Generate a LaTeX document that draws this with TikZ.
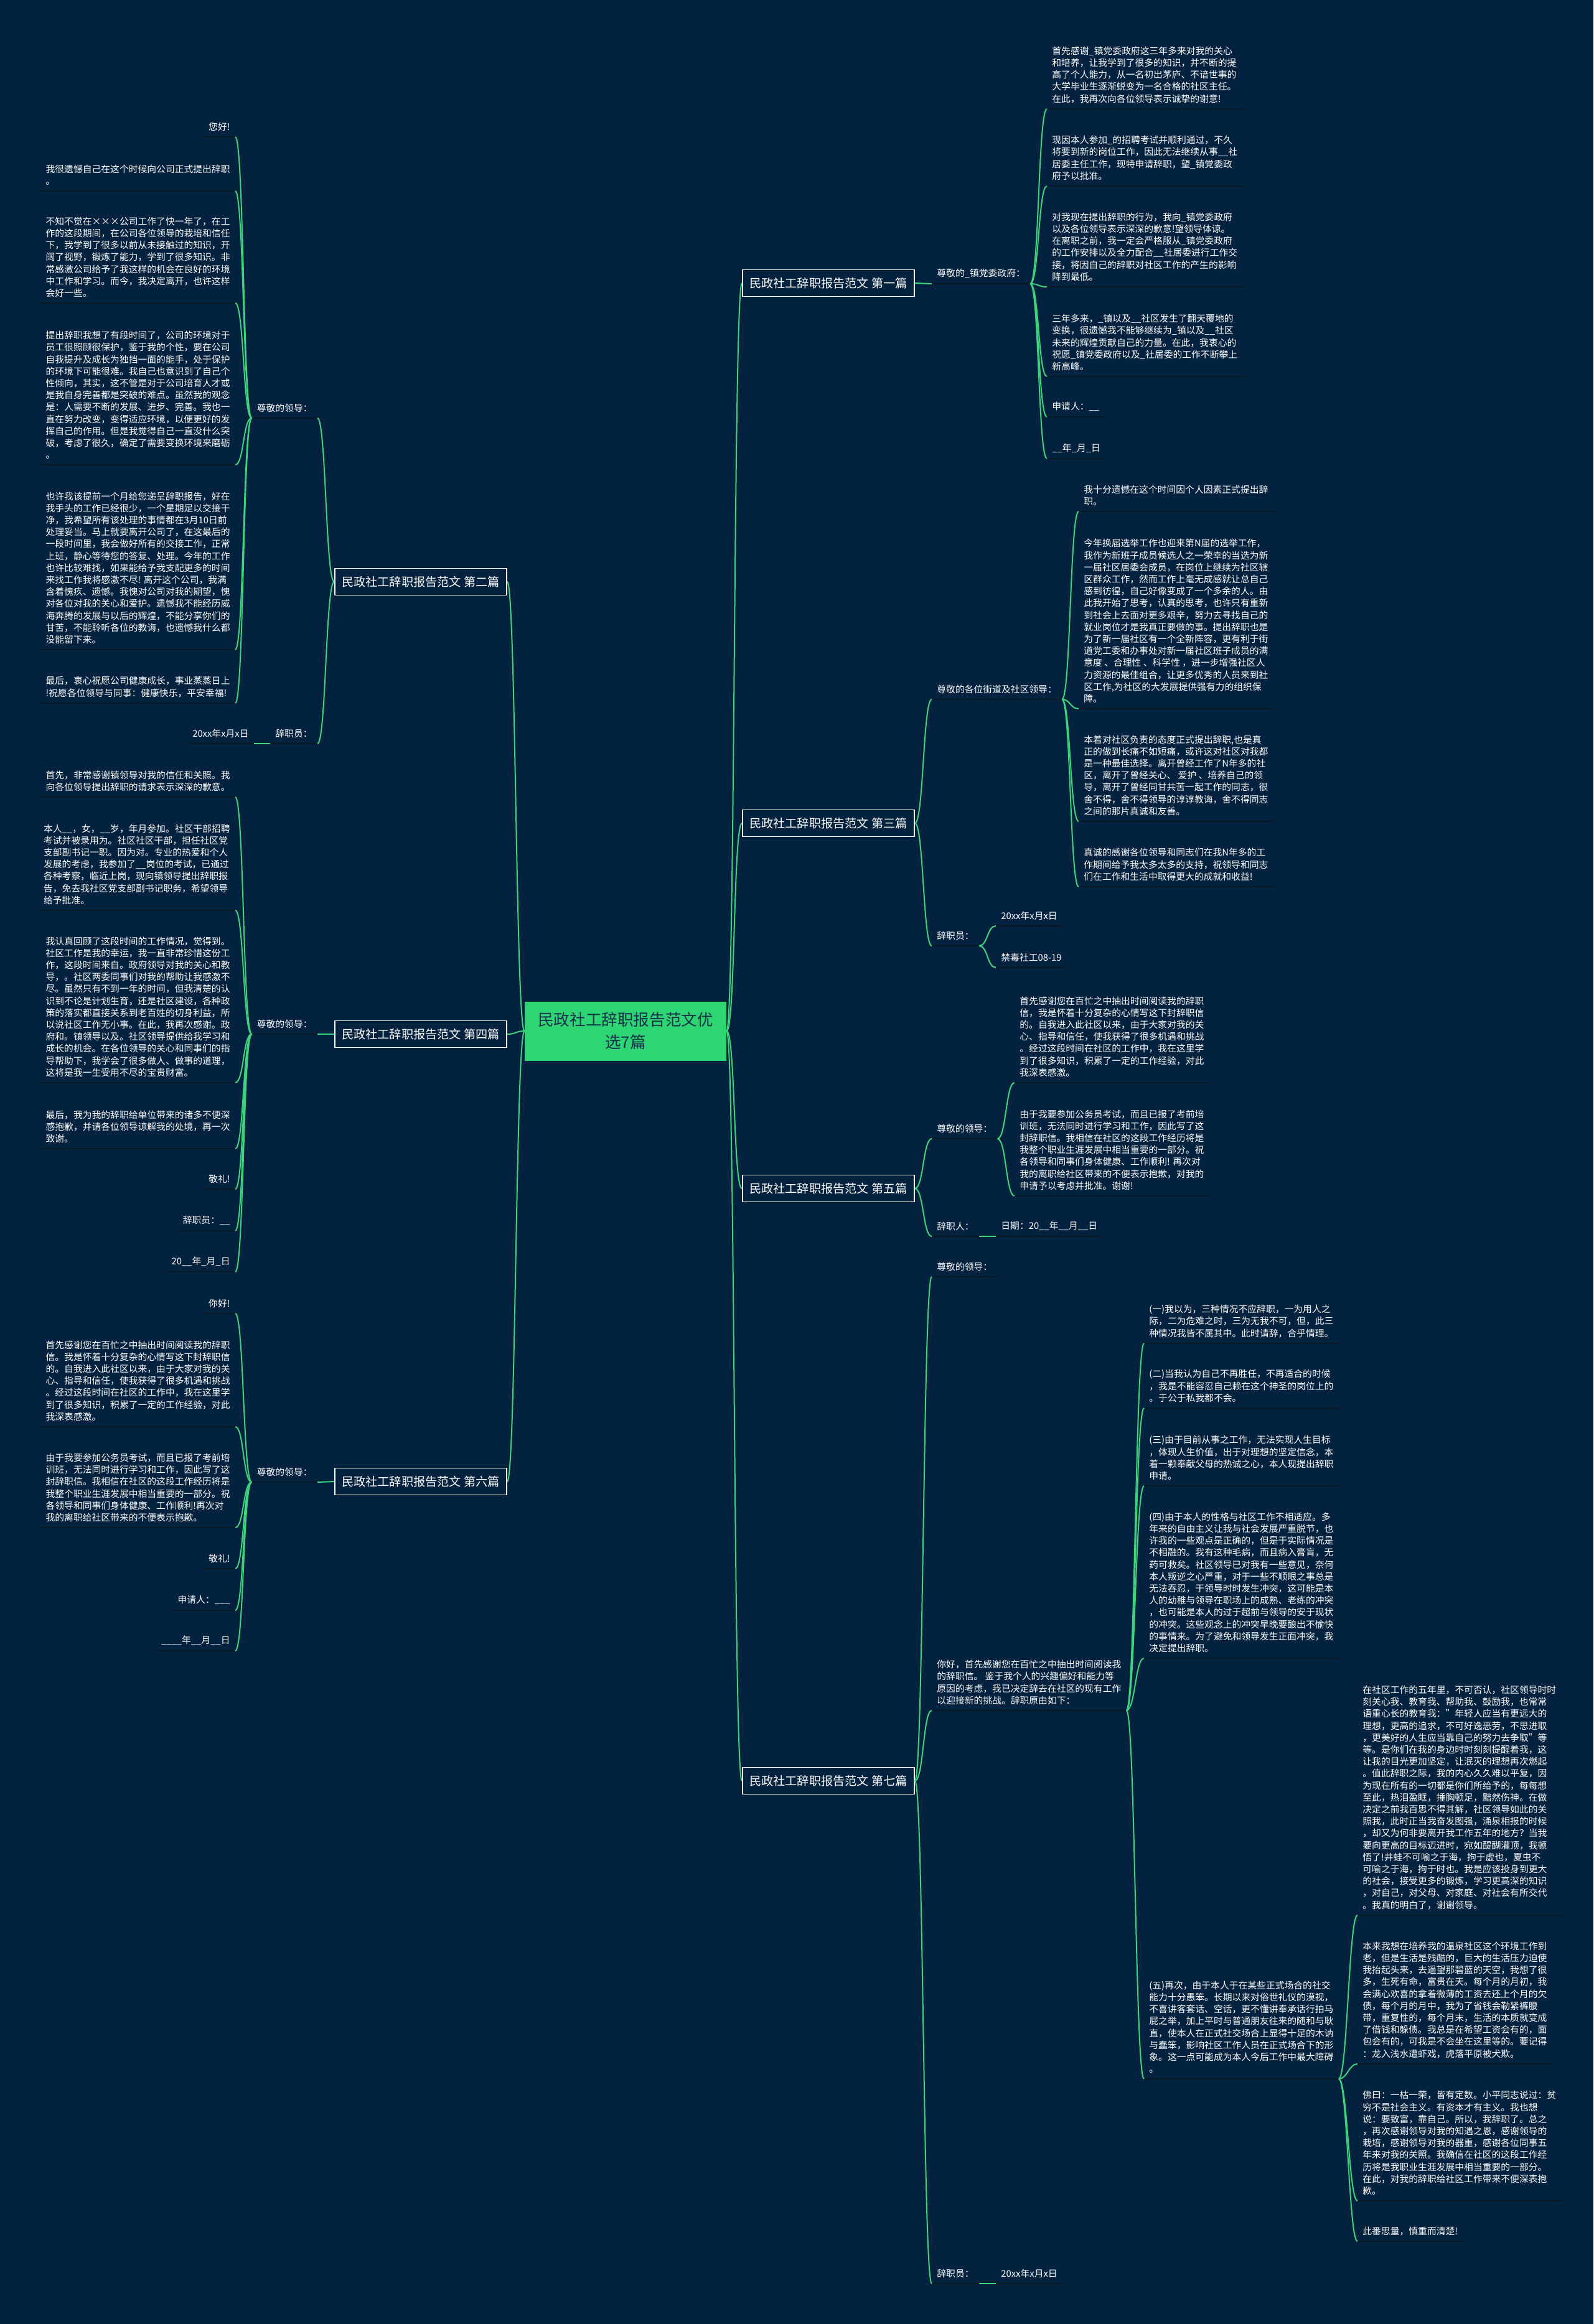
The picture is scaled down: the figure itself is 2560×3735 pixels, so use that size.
\documentclass[tikz,border=0pt]{standalone}
\usepackage{fontspec}
\setmainfont{Noto Sans CJK SC}
\usetikzlibrary{positioning}

\definecolor{navybg}{HTML}{03223F}
\definecolor{linkgreen}{HTML}{3DD47E}
\definecolor{rootgreen}{HTML}{2ED573}
\definecolor{rootink}{HTML}{10304A}
\definecolor{ulinedark}{HTML}{0A1826}

\tikzset{
  uline/.style={draw=ulinedark, line width=1.2pt},
  leaf/.style={text=white, align=left, inner xsep=4pt, inner ysep=4.5pt,
    font=\fontsize{7.4}{9.6}\selectfont,
    append after command={(\tikzlastnode.south west) edge[uline] (\tikzlastnode.south east)}},
  leafR/.style={leaf, anchor=south west},
  leafL/.style={leaf, anchor=south east},
  branch/.style={draw=white, line width=0.9pt, fill=navybg, text=white, inner sep=0pt,
    minimum width=138pt, minimum height=21.5pt, font=\fontsize{9.6}{12}\selectfont},
  rootbox/.style={fill=rootgreen, text=rootink, align=center,
    minimum width=162pt, minimum height=47.5pt, font=\fontsize{12.8}{18}\selectfont},
  link/.style={draw=linkgreen, line width=1pt},
  bendR/.style={to path={.. controls +(14,0) and +(-14,0) .. (\tikztotarget)}},
  bendL/.style={to path={.. controls +(-14,0) and +(14,0) .. (\tikztotarget)}}
}

\begin{document}
\begin{tikzpicture}[x=0.5pt, y=-0.5pt]
    \fill[navybg] (0,0) rectangle (2560,3735);
    \useasboundingbox (0,0) rectangle (2560,3735);

    \node (root) [rootbox] at (1005,1657) {民政社工辞职报告范文优\\选7篇};

    \node (p1) [branch] at (1331,455) {民政社工辞职报告范文 第一篇};
    \node (p3) [branch] at (1331,1323) {民政社工辞职报告范文 第三篇};
    \node (p5) [branch] at (1331,1910) {民政社工辞职报告范文 第五篇};
    \node (p7) [branch] at (1331,2862) {民政社工辞职报告范文 第七篇};
    \node (p2) [branch] at (676,935) {民政社工辞职报告范文 第二篇};
    \node (p4) [branch] at (676,1662) {民政社工辞职报告范文 第四篇};
    \node (p6) [branch] at (676,2381) {民政社工辞职报告范文 第六篇};

    % 第一篇
    \node (p1g) [leafR] at (1497,456) {尊敬的\_镇党委政府：};
    \node (p1c1) [leafR] at (1682,175) {首先感谢\_镇党委政府这三年多来对我的关心\\和培养，让我学到了很多的知识，并不断的提\\高了个人能力，从一名初出茅庐、不谙世事的\\大学毕业生逐渐蜕变为一名合格的社区主任。\\在此，我再次向各位领导表示诚挚的谢意!};
    \node (p1c2) [leafR] at (1682,299) {现因本人参加\_的招聘考试并顺利通过，不久\\将要到新的岗位工作，因此无法继续从事\_\_社\\居委主任工作，现特申请辞职，望\_镇党委政\\府予以批准。};
    \node (p1c3) [leafR] at (1682,461) {对我现在提出辞职的行为，我向\_镇党委政府\\以及各位领导表示深深的歉意!望领导体谅。\\在离职之前，我一定会严格服从\_镇党委政府\\的工作安排以及全力配合\_\_社居委进行工作交\\接，将因自己的辞职对社区工作的产生的影响\\降到最低。};
    \node (p1c4) [leafR] at (1682,605) {三年多来，\_镇以及\_\_社区发生了翻天覆地的\\变换，很遗憾我不能够继续为\_镇以及\_\_社区\\未来的辉煌贡献自己的力量。在此，我衷心的\\祝愿\_镇党委政府以及\_社居委的工作不断攀上\\新高峰。};
    \node (p1c5) [leafR] at (1682,670) {申请人：\_\_};
    \node (p1c6) [leafR] at (1682,737) {\_\_年\_月\_日};

    % 第三篇
    \node (p3g) [leafR] at (1497,1124) {尊敬的各位街道及社区领导：};
    \node (p3c1) [leafR] at (1733,822) {我十分遗憾在这个时间因个人因素正式提出辞\\职。};
    \node (p3c2) [leafR] at (1733,1139) {今年换届选举工作也迎来第N届的选举工作，\\我作为新班子成员候选人之一荣幸的当选为新\\一届社区居委会成员，在岗位上继续为社区辖\\区群众工作，然而工作上毫无成感就让总自己\\感到彷徨，自己好像变成了一个多余的人。由\\此我开始了思考，认真的思考，也许只有重新\\到社会上去面对更多艰辛，努力去寻找自己的\\就业岗位才是我真正要做的事。提出辞职也是\\为了新一届社区有一个全新阵容，更有利于街\\道党工委和办事处对新一届社区班子成员的满\\意度 、合理性 、科学性 ，进一步增强社区人\\力资源的最佳组合，让更多优秀的人员来到社\\区工作,为社区的大发展提供强有力的组织保\\障。};
    \node (p3c3) [leafR] at (1733,1320) {本着对社区负责的态度正式提出辞职,也是真\\正的做到长痛不如短痛，或许这对社区对我都\\是一种最佳选择。离开曾经工作了N年多的社\\区，离开了曾经关心、 爱护 、培养自己的领\\导，离开了曾经同甘共苦一起工作的同志，很\\舍不得，舍不得领导的谆谆教诲，舍不得同志\\之间的那片真诚和友善。};
    \node (p3c4) [leafR] at (1733,1425) {真诚的感谢各位领导和同志们在我N年多的工\\作期间给予我太多太多的支持，祝领导和同志\\们在工作和生活中取得更大的成就和收益!};
    \node (p3s) [leafR] at (1497,1520) {辞职员：};
    \node (p3s1) [leafR] at (1600,1488) {20xx年x月x日};
    \node (p3s2) [leafR] at (1600,1555) {禁毒社工08-19};

    % 第五篇
    \node (p5g) [leafR] at (1497,1830) {尊敬的领导：};
    \node (p5c1) [leafR] at (1630,1740) {首先感谢您在百忙之中抽出时间阅读我的辞职\\信，我是怀着十分复杂的心情写这下封辞职信\\的。自我进入此社区以来，由于大家对我的关\\心、指导和信任，使我获得了很多机遇和挑战\\。经过这段时间在社区的工作中，我在这里学\\到了很多知识，积累了一定的工作经验，对此\\我深表感激。};
    \node (p5c2) [leafR] at (1630,1922) {由于我要参加公务员考试，而且已报了考前培\\训班，无法同时进行学习和工作，因此写了这\\封辞职信。我相信在社区的这段工作经历将是\\我整个职业生涯发展中相当重要的一部分。祝\\各领导和同事们身体健康、工作顺利! 再次对\\我的离职给社区带来的不便表示抱歉，对我的\\申请予以考虑并批准。谢谢!};
    \node (p5s) [leafR] at (1497,1987) {辞职人：};
    \node (p5s1) [leafR] at (1600,1987) {日期：20\_\_年\_\_月\_\_日};

    % 第七篇
    \node (p7g) [leafR] at (1497,2052) {尊敬的领导：};
    \node (p7h) [leafR] at (1497,2749) {你好，首先感谢您在百忙之中抽出时间阅读我\\的辞职信。 鉴于我个人的兴趣偏好和能力等\\原因的考虑，我已决定辞去在社区的现有工作\\以迎接新的挑战。辞职原由如下：};
    \node (p7r1) [leafR] at (1838,2159) {(一)我以为，三种情况不应辞职，一为用人之\\际，二为危难之时，三为无我不可，但，此三\\种情况我皆不属其中。此时请辞，合乎情理。};
    \node (p7r2) [leafR] at (1838,2263) {(二)当我认为自己不再胜任，不再适合的时候\\，我是不能容忍自己赖在这个神圣的岗位上的\\。于公于私我都不会。};
    \node (p7r3) [leafR] at (1838,2388) {(三)由于目前从事之工作，无法实现人生目标\\，体现人生价值，出于对理想的坚定信念，本\\着一颗奉献父母的热诚之心，本人现提出辞职\\申请。};
    \node (p7r4) [leafR] at (1838,2665) {(四)由于本人的性格与社区工作不相适应。多\\年来的自由主义让我与社会发展严重脱节，也\\许我的一些观点是正确的，但是于实际情况是\\不相融的。我有这种毛病，而且病入膏肓，无\\药可救矣。社区领导已对我有一些意见，奈何\\本人叛逆之心严重，对于一些不顺眼之事总是\\无法吞忍，于领导时时发生冲突，这可能是本\\人的幼稚与领导在职场上的成熟、老练的冲突\\，也可能是本人的过于超前与领导的安于现状\\的冲突。这些观念上的冲突早晚要酿出不愉快\\的事情来。为了避免和领导发生正面冲突，我\\决定提出辞职。};
    \node (p7r5) [leafR] at (1838,3341) {(五)再次，由于本人于在某些正式场合的社交\\能力十分愚笨。长期以来对俗世礼仪的漠视，\\不喜讲客套话、空话，更不懂讲奉承话行拍马\\屁之举，加上平时与普通朋友往来的随和与耿\\直，使本人在正式社交场合上显得十足的木讷\\与蠢笨，影响社区工作人员在正式场合下的形\\象。这一点可能成为本人今后工作中最大障碍\\。};
    \node (p7q1) [leafR] at (2181,3078) {在社区工作的五年里，不可否认，社区领导时时\\刻关心我、教育我、帮助我、鼓励我，也常常\\语重心长的教育我："年轻人应当有更远大的\\理想，更高的追求，不可好逸恶劳，不思进取\\，更美好的人生应当靠自己的努力去争取"等\\等。是你们在我的身边时时刻刻提醒着我，这\\让我的目光更加坚定，让泯灭的理想再次燃起\\。值此辞职之际，我的内心久久难以平复，因\\为现在所有的一切都是你们所给予的，每每想\\至此，热泪盈眶，捶胸顿足，黯然伤神。在做\\决定之前我百思不得其解，社区领导如此的关\\照我，此时正当我奋发图强，涌泉相报的时候\\，却又为何非要离开我工作五年的地方？当我\\要向更高的目标迈进时，宛如醍醐灌顶，我顿\\悟了!井蛙不可喻之于海，拘于虚也，夏虫不\\可喻之于海，拘于时也。我是应该投身到更大\\的社会，接受更多的锻炼，学习更高深的知识\\，对自己，对父母、对家庭、对社会有所交代\\。我真的明白了，谢谢领导。};
    \node (p7q2) [leafR] at (2181,3317) {本来我想在培养我的温泉社区这个环境工作到\\老，但是生活是残酷的，巨大的生活压力迫使\\我抬起头来，去遥望那碧蓝的天空，我想了很\\多，生死有命，富贵在天。每个月的月初，我\\会满心欢喜的拿着微薄的工资去还上个月的欠\\债，每个月的月中，我为了省钱会勒紧裤腰\\带，重复性的，每个月末，生活的本质就变成\\了借钱和躲债。我总是在希望工资会有的，面\\包会有的，可我是不会坐在这里等的。要记得\\：龙入浅水遭虾戏，虎落平原被犬欺。};
    \node (p7q3) [leafR] at (2181,3537) {佛曰：一枯一荣，皆有定数。小平同志说过：贫\\穷不是社会主义。有资本才有主义。我也想\\说：要致富，靠自己。所以，我辞职了。总之\\，再次感谢领导对我的知遇之恩，感谢领导的\\栽培，感谢领导对我的器重，感谢各位同事五\\年来对我的关照。我确信在社区的这段工作经\\历将是我职业生涯发展中相当重要的一部分。\\在此，对我的辞职给社区工作带来不便深表抱\\歉。};
    \node (p7q4) [leafR] at (2181,3602) {此番思量，慎重而清楚!};
    \node (p7s) [leafR] at (1497,3670) {辞职员：};
    \node (p7s1) [leafR] at (1600,3670) {20xx年x月x日};

    % 第二篇
    \node (p2g) [leafL] at (510,672) {尊敬的领导：};
    \node (p2c1) [leafL] at (378,220) {您好!};
    \node (p2c2) [leafL] at (378,307) {我很遗憾自己在这个时候向公司正式提出辞职\\。};
    \node (p2c3) [leafL] at (378,487) {不知不觉在×××公司工作了快一年了，在工\\作的这段期间，在公司各位领导的栽培和信任\\下，我学到了很多以前从未接触过的知识，开\\阔了视野，锻炼了能力，学到了很多知识。非\\常感激公司给予了我这样的机会在良好的环境\\中工作和学习。而今，我决定离开，也许这样\\会好一些。};
    \node (p2c4) [leafL] at (378,747) {提出辞职我想了有段时间了，公司的环境对于\\员工很照顾很保护，鉴于我的个性，要在公司\\自我提升及成长为独挡一面的能手，处于保护\\的环境下可能很难。我自己也意识到了自己个\\性倾向，其实，这不管是对于公司培育人才或\\是我自身完善都是突破的难点。虽然我的观念\\是：人需要不断的发展、进步、完善。我也一\\直在努力改变，变得适应环境，以便更好的发\\挥自己的作用。但是我觉得自己一直没什么突\\破，考虑了很久，确定了需要变换环境来磨砺\\。};
    \node (p2c5) [leafL] at (378,1044) {也许我该提前一个月给您递呈辞职报告，好在\\我手头的工作已经很少，一个星期足以交接干\\净，我希望所有该处理的事情都在3月10日前\\处理妥当。马上就要离开公司了，在这最后的\\一段时间里，我会做好所有的交接工作，正常\\上班，静心等待您的答复、处理。今年的工作\\也许比较难找，如果能给予我支配更多的时间\\来找工作我将感激不尽! 离开这个公司，我满\\含着愧疚、遗憾。我愧对公司对我的期望，愧\\对各位对我的关心和爱护。遗憾我不能经历威\\海奔腾的发展与以后的辉煌，不能分享你们的\\甘苦，不能聆听各位的教诲，也遗憾我什么都\\没能留下来。};
    \node (p2c6) [leafL] at (378,1130) {最后，衷心祝愿公司健康成长，事业蒸蒸日上\\!祝愿各位领导与同事：健康快乐，平安幸福!};
    \node (p2s) [leafL] at (510,1195) {辞职员：};
    \node (p2s1) [leafL] at (408,1195) {20xx年x月x日};

    % 第四篇
    \node (p4g) [leafL] at (510,1662) {尊敬的领导：};
    \node (p4c1) [leafL] at (378,1281) {首先，非常感谢镇领导对我的信任和关照。我\\向各位领导提出辞职的请求表示深深的歉意。};
    \node (p4c2) [leafL] at (378,1463) {本人\_\_，女，\_\_岁，年月参加。社区干部招聘\\考试并被录用为。社区社区干部，担任社区党\\支部副书记一职。因为对。专业的热爱和个人\\发展的考虑，我参加了\_\_岗位的考试，已通过\\各种考察，临近上岗，现向镇领导提出辞职报\\告，免去我社区党支部副书记职务，希望领导\\给予批准。};
    \node (p4c3) [leafL] at (378,1740) {我认真回顾了这段时间的工作情况，觉得到。\\社区工作是我的幸运，我一直非常珍惜这份工\\作，这段时间来自。政府领导对我的关心和教\\导，。社区两委同事们对我的帮助让我感激不\\尽。虽然只有不到一年的时间，但我清楚的认\\识到不论是计划生育，还是社区建设，各种政\\策的落实都直接关系到老百姓的切身利益，所\\以说社区工作无小事。在此，我再次感谢。政\\府和。镇领导以及。社区领导提供给我学习和\\成长的机会。在各位领导的关心和同事们的指\\导帮助下，我学会了很多做人、做事的道理，\\这将是我一生受用不尽的宝贵财富。};
    \node (p4c4) [leafL] at (378,1846) {最后，我为我的辞职给单位带来的诸多不便深\\感抱歉，并请各位领导谅解我的处境，再一次\\致谢。};
    \node (p4c5) [leafL] at (378,1911) {敬礼!};
    \node (p4c6) [leafL] at (378,1978) {辞职员：\_\_};
    \node (p4c7) [leafL] at (378,2044) {20\_\_年\_月\_日};

    % 第六篇
    \node (p6g) [leafL] at (510,2382) {尊敬的领导：};
    \node (p6c1) [leafL] at (378,2111) {你好!};
    \node (p6c2) [leafL] at (378,2293) {首先感谢您在百忙之中抽出时间阅读我的辞职\\信。我是怀着十分复杂的心情写这下封辞职信\\的。自我进入此社区以来，由于大家对我的关\\心、指导和信任，使我获得了很多机遇和挑战\\。经过这段时间在社区的工作中，我在这里学\\到了很多知识，积累了一定的工作经验，对此\\我深表感激。};
    \node (p6c3) [leafL] at (378,2455) {由于我要参加公务员考试，而且已报了考前培\\训班，无法同时进行学习和工作，因此写了这\\封辞职信。我相信在社区的这段工作经历将是\\我整个职业生涯发展中相当重要的一部分。祝\\各领导和同事们身体健康、工作顺利!再次对\\我的离职给社区带来的不便表示抱歉。};
    \node (p6c4) [leafL] at (378,2521) {敬礼!};
    \node (p6c5) [leafL] at (378,2588) {申请人：\_\_\_};
    \node (p6c6) [leafL] at (378,2653) {\_\_\_\_年\_\_月\_\_日};

    % connectors
    \draw[link] (root.east) to[bendR] (p1.west);
    \draw[link] (root.east) to[bendR] (p3.west);
    \draw[link] (root.east) to[bendR] (p5.west);
    \draw[link] (root.east) to[bendR] (p7.west);
    \draw[link] (root.west) to[bendL] (p2.east);
    \draw[link] (root.west) to[bendL] (p4.east);
    \draw[link] (root.west) to[bendL] (p6.east);

    \draw[link] (p1.east) to[bendR] (p1g.south west);
    \draw[link] (p1g.south east) to[bendR] (p1c1.south west);
    \draw[link] (p1g.south east) to[bendR] (p1c2.south west);
    \draw[link] (p1g.south east) to[bendR] (p1c3.south west);
    \draw[link] (p1g.south east) to[bendR] (p1c4.south west);
    \draw[link] (p1g.south east) to[bendR] (p1c5.south west);
    \draw[link] (p1g.south east) to[bendR] (p1c6.south west);

    \draw[link] (p3.east) to[bendR] (p3g.south west);
    \draw[link] (p3.east) to[bendR] (p3s.south west);
    \draw[link] (p3g.south east) to[bendR] (p3c1.south west);
    \draw[link] (p3g.south east) to[bendR] (p3c2.south west);
    \draw[link] (p3g.south east) to[bendR] (p3c3.south west);
    \draw[link] (p3g.south east) to[bendR] (p3c4.south west);
    \draw[link] (p3s.south east) to[bendR] (p3s1.south west);
    \draw[link] (p3s.south east) to[bendR] (p3s2.south west);

    \draw[link] (p5.east) to[bendR] (p5g.south west);
    \draw[link] (p5.east) to[bendR] (p5s.south west);
    \draw[link] (p5g.south east) to[bendR] (p5c1.south west);
    \draw[link] (p5g.south east) to[bendR] (p5c2.south west);
    \draw[link] (p5s.south east) -- (p5s1.south west);

    \draw[link] (p7.east) to[bendR] (p7g.south west);
    \draw[link] (p7.east) to[bendR] (p7h.south west);
    \draw[link] (p7.east) to[bendR] (p7s.south west);
    \draw[link] (p7h.south east) to[bendR] (p7r1.south west);
    \draw[link] (p7h.south east) to[bendR] (p7r2.south west);
    \draw[link] (p7h.south east) to[bendR] (p7r3.south west);
    \draw[link] (p7h.south east) to[bendR] (p7r4.south west);
    \draw[link] (p7h.south east) to[bendR] (p7r5.south west);
    \draw[link] (p7r5.south east) to[bendR] (p7q1.south west);
    \draw[link] (p7r5.south east) to[bendR] (p7q2.south west);
    \draw[link] (p7r5.south east) to[bendR] (p7q3.south west);
    \draw[link] (p7r5.south east) to[bendR] (p7q4.south west);
    \draw[link] (p7s.south east) -- (p7s1.south west);

    \draw[link] (p2.west) to[bendL] (p2g.south east);
    \draw[link] (p2.west) to[bendL] (p2s.south east);
    \draw[link] (p2g.south west) to[bendL] (p2c1.south east);
    \draw[link] (p2g.south west) to[bendL] (p2c2.south east);
    \draw[link] (p2g.south west) to[bendL] (p2c3.south east);
    \draw[link] (p2g.south west) to[bendL] (p2c4.south east);
    \draw[link] (p2g.south west) to[bendL] (p2c5.south east);
    \draw[link] (p2g.south west) to[bendL] (p2c6.south east);
    \draw[link] (p2s.south west) -- (p2s1.south east);

    \draw[link] (p4.west) to[bendL] (p4g.south east);
    \draw[link] (p4g.south west) to[bendL] (p4c1.south east);
    \draw[link] (p4g.south west) to[bendL] (p4c2.south east);
    \draw[link] (p4g.south west) to[bendL] (p4c3.south east);
    \draw[link] (p4g.south west) to[bendL] (p4c4.south east);
    \draw[link] (p4g.south west) to[bendL] (p4c5.south east);
    \draw[link] (p4g.south west) to[bendL] (p4c6.south east);
    \draw[link] (p4g.south west) to[bendL] (p4c7.south east);

    \draw[link] (p6.west) to[bendL] (p6g.south east);
    \draw[link] (p6g.south west) to[bendL] (p6c1.south east);
    \draw[link] (p6g.south west) to[bendL] (p6c2.south east);
    \draw[link] (p6g.south west) to[bendL] (p6c3.south east);
    \draw[link] (p6g.south west) to[bendL] (p6c4.south east);
    \draw[link] (p6g.south west) to[bendL] (p6c5.south east);
    \draw[link] (p6g.south west) to[bendL] (p6c6.south east);
\end{tikzpicture}
\end{document}
